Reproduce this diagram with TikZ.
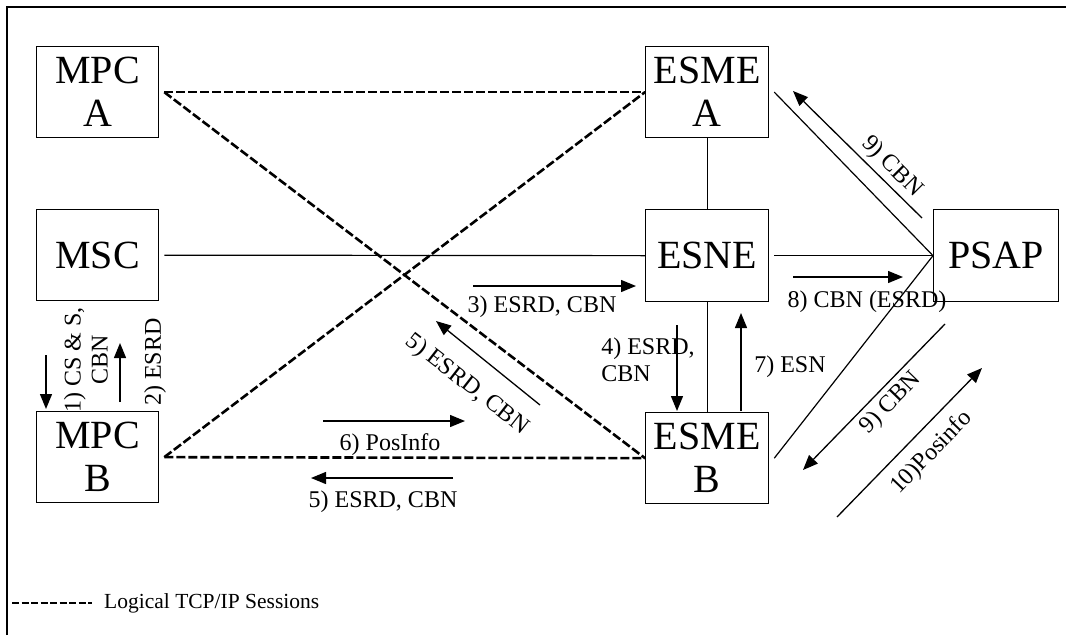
\documentclass[tikz,border=0pt]{standalone}
\usepackage{fontspec}
\setmainfont{Liberation Serif}
\usetikzlibrary{arrows.meta}
\begin{document}
\begin{tikzpicture}[x=1pt,y=-1pt,
  box/.style={draw, line width=1.3pt, minimum width=122pt, minimum height=91pt, inner sep=0pt, align=center, font=\fontsize{40}{43}\selectfont, anchor=north west},
  tcp/.style={line width=2.6pt, dash pattern=on 9pt off 3pt},
  tcpthin/.style={line width=1.8pt, dash pattern=on 9pt off 3pt},
  link/.style={line width=1.2pt},
  msg/.style={line width=1.3pt, -{Triangle[length=15pt,width=12pt]}},
  lbl/.style={font=\fontsize{24}{27}\selectfont, inner sep=0pt}]
\useasboundingbox[fill=white] (0,0) rectangle (1066,635);
\draw[line width=2.5pt] (7,635) -- (7,7) -- (1066,7);

% boxes
\node[box] (mpca) at (36,46) {MPC\\A};
\node[box] (msc) at (36,209) {MSC};
\node[box] (mpcb) at (36,411) {MPC\\B};
\node[box, minimum width=123pt] (esmea) at (645,46) {ESME\\A};
\node[box, minimum width=123pt, minimum height=92pt] (esne) at (645,209) {ESNE};
\node[box, minimum width=123pt] (esmeb) at (645,412) {ESME\\B};
\node[box, minimum width=125pt, minimum height=92pt] (psap) at (933,209) {PSAP};

% logical TCP/IP sessions
\draw[tcpthin] ([xshift=5pt]mpca.east) -- (esmea.west);
\draw[tcp] ([xshift=5pt]mpca.east) -- (esmeb.west);
\draw[tcp] ([xshift=5pt]mpcb.east) -- (esmea.west);
\draw[tcp] ([xshift=5pt]mpcb.east) -- (esmeb.west);

% solid links
\draw[link] ([xshift=5pt]msc.east) -- (esne.west);
\draw[link] ([xshift=5pt]esne.east) -- (psap.west);
\draw[link] (esmea.south) -- (esne.north);
\draw[link] (esne.south) -- (esmeb.north);
\draw[link] ([xshift=5pt]esmea.east) -- (psap.west);
\draw[link] ([xshift=5pt]esmeb.east) -- (psap.west);

% message arrows
\coordinate (m1s) at (46,355);   \coordinate (m1e) at (46,409);
\coordinate (m2s) at (120,402);  \coordinate (m2e) at (120,343);
\coordinate (m3s) at (473,286);  \coordinate (m3e) at (636,286);
\coordinate (m4s) at (677,325);  \coordinate (m4e) at (677,411);
\coordinate (m5as) at (540,405); \coordinate (m5ae) at (436,321);
\coordinate (m6s) at (323,421);  \coordinate (m6e) at (465,421);
\coordinate (m5bs) at (453,478); \coordinate (m5be) at (311,478);
\coordinate (m7s) at (741,411);  \coordinate (m7e) at (741,313);
\coordinate (m8s) at (793,277);  \coordinate (m8e) at (903,277);
\coordinate (m9as) at (922,218); \coordinate (m9ae) at (793,91);
\coordinate (m9bs) at (945,324); \coordinate (m9be) at (803,470);
\coordinate (m10s) at (837,517); \coordinate (m10e) at (982,368);
\foreach \a in {m1,m2,m3,m4,m5a,m6,m5b,m7,m8,m9a,m9b,m10}
  \draw[msg] (\a s) -- (\a e);

% labels
\node[lbl, rotate=90, align=center] (l1) at (86,360) {1) CS \& S,\\CBN};
\node[lbl, rotate=90] (l2) at (155,362) {2) ESRD};
\node[lbl] (l3) at (542,307) {3) ESRD, CBN};
\node[lbl, align=left] (l4) at (648,360) {4) ESRD,\\ CBN};
\node[lbl, rotate=-38] (l5a) at (467,385) {5) ESRD, CBN};
\node[lbl] (l6) at (390,445) {6) PosInfo};
\node[lbl] (l5b) at (383,502) {5) ESRD, CBN};
\node[lbl] (l7) at (790,367) {7) ESN};
\node[lbl] (l8) at (867,302) {8) CBN (ESRD)};
\node[lbl, rotate=-45] (l9a) at (892,167) {9) CBN};
\node[lbl, rotate=46] (l9b) at (891,403) {9) CBN};
\node[lbl, rotate=46] (l10) at (932,453) {10)Posinfo};

% legend
\coordinate (lg1) at (12,603); \coordinate (lg2) at (92,603);
\draw[line width=2pt, dash pattern=on 7pt off 2.5pt] (lg1) -- (lg2);
\node[font=\fontsize{21.5}{24}\selectfont, anchor=west, inner sep=0pt] (lgt) at (104,603) {Logical TCP/IP Sessions};
\end{tikzpicture}
\end{document}
